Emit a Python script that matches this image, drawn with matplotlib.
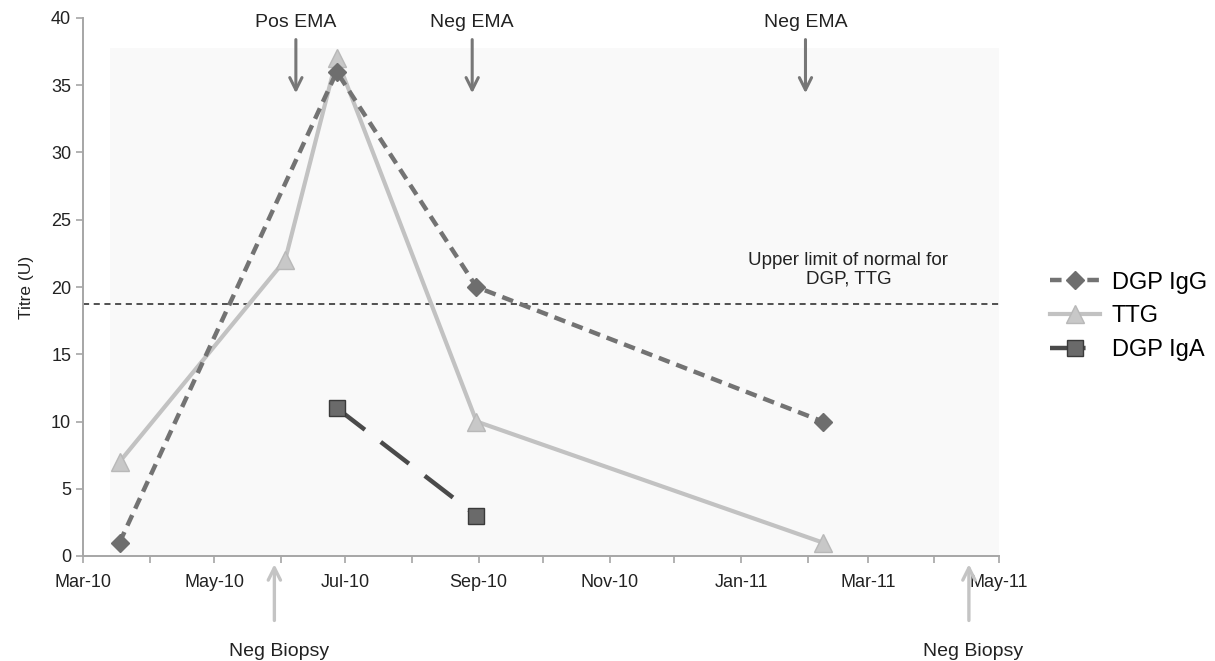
import datetime as dt
import matplotlib
matplotlib.use("Agg")
import matplotlib.pyplot as plt
import matplotlib.dates as mdates
from matplotlib.patches import Rectangle

plt.rcParams['font.family'] = ['Liberation Sans', 'DejaVu Sans']

# data
igg_dates = [dt.date(2010, 3, 18), dt.date(2010, 6, 27), dt.date(2010, 8, 31), dt.date(2011, 2, 8)]
igg_vals = [1, 36, 20, 10]
ttg_dates = [dt.date(2010, 3, 18), dt.date(2010, 6, 3), dt.date(2010, 6, 27), dt.date(2010, 8, 31), dt.date(2011, 2, 8)]
ttg_vals = [7, 22, 37, 10, 1]
iga_dates = [dt.date(2010, 6, 27), dt.date(2010, 8, 31)]
iga_vals = [11, 3]
upper_limit = 18.7

ema_dates = [dt.date(2010, 6, 8), dt.date(2010, 8, 29), dt.date(2011, 1, 31)]
ema_labels = ["Pos EMA", "Neg EMA", "Neg EMA"]
biopsy_dates = [dt.date(2010, 5, 29), dt.date(2011, 4, 17)]
biopsy_labels = ["Neg Biopsy", "Neg Biopsy"]

fig = plt.figure(figsize=(12.15, 6.61), dpi=100)
ax = fig.add_axes([83 / 1215, 105 / 661, 916 / 1215, 538 / 661])

# light plot area
ax.add_patch(Rectangle((0.029, 0), 0.971, 0.944, transform=ax.transAxes,
                       facecolor='#f9f9f9', edgecolor='none', zorder=0))

ax.plot(igg_dates, igg_vals, color='#737373', lw=3.2, dashes=(2.6, 1.6),
        marker='D', ms=9, mfc='#6e6e6e', mec='#6e6e6e', label='DGP IgG', zorder=3)
ax.plot(ttg_dates, ttg_vals, color='#c2c2c2', lw=3.0,
        marker='^', ms=13, mfc='#c8c8c8', mec='#b8b8b8', label='TTG', zorder=2)
ax.plot(iga_dates, iga_vals, color='#4a4a4a', lw=3.2, dashes=(8, 4.5),
        marker='s', ms=11, mfc='#6a6a6a', mec='#3a3a3a', label='DGP IgA', zorder=4)

ax.axhline(upper_limit, color='#222222', lw=1.1, dashes=(4, 3), zorder=1)
ax.text(dt.date(2011, 2, 20), 21.3, "Upper limit of normal for\nDGP, TTG", ha='center',
        va='center', fontsize=13.5, color='#222222', linespacing=1.15)

# EMA arrows
for d, lab in zip(ema_dates, ema_labels):
    ax.annotate("", xy=(d, 34.2), xytext=(d, 38.6),
                arrowprops=dict(arrowstyle='->', color='#777777', lw=2.2,
                                mutation_scale=22), annotation_clip=False)
    ax.text(d, 39.7, lab, ha='center', va='center', fontsize=14, color='#222222')

# biopsy arrows
for d, lab in zip(biopsy_dates, biopsy_labels):
    ax.annotate("", xy=(d, -0.4), xytext=(d, -5.0),
                arrowprops=dict(arrowstyle='->', color='#c4c4c4', lw=2.4,
                                mutation_scale=22), annotation_clip=False)
    ax.text(d + dt.timedelta(days=2), -7.1, lab, ha='center', va='center',
            fontsize=14, color='#222222', clip_on=False)

ax.set_xlim(dt.date(2010, 3, 1), dt.date(2011, 5, 1))
ax.set_ylim(0, 40)
ax.set_yticks(range(0, 41, 5))
ax.xaxis.set_major_locator(mdates.MonthLocator(bymonth=[1, 3, 5, 7, 9, 11]))
ax.xaxis.set_minor_locator(mdates.MonthLocator())
ax.xaxis.set_major_formatter(mdates.DateFormatter('%b-%y'))

ax.set_facecolor('white')
for s in ['top', 'right']:
    ax.spines[s].set_visible(False)
for s in ['left', 'bottom']:
    ax.spines[s].set_color('#a6a6a6')
    ax.spines[s].set_linewidth(1.4)
ax.tick_params(axis='both', which='both', color='#a6a6a6', width=1.2, length=5,
               labelsize=13, labelcolor='#222222')
ax.tick_params(axis='x', pad=8)
ax.set_ylabel("Titre (U)", fontsize=12.5, color='#222222', labelpad=12)

leg = ax.legend(loc='upper left', bbox_to_anchor=(1.033, 0.568), frameon=False,
                fontsize=17, handlelength=2.1, labelspacing=0.5, handletextpad=0.5)

fig.savefig("out.png", dpi=100)
